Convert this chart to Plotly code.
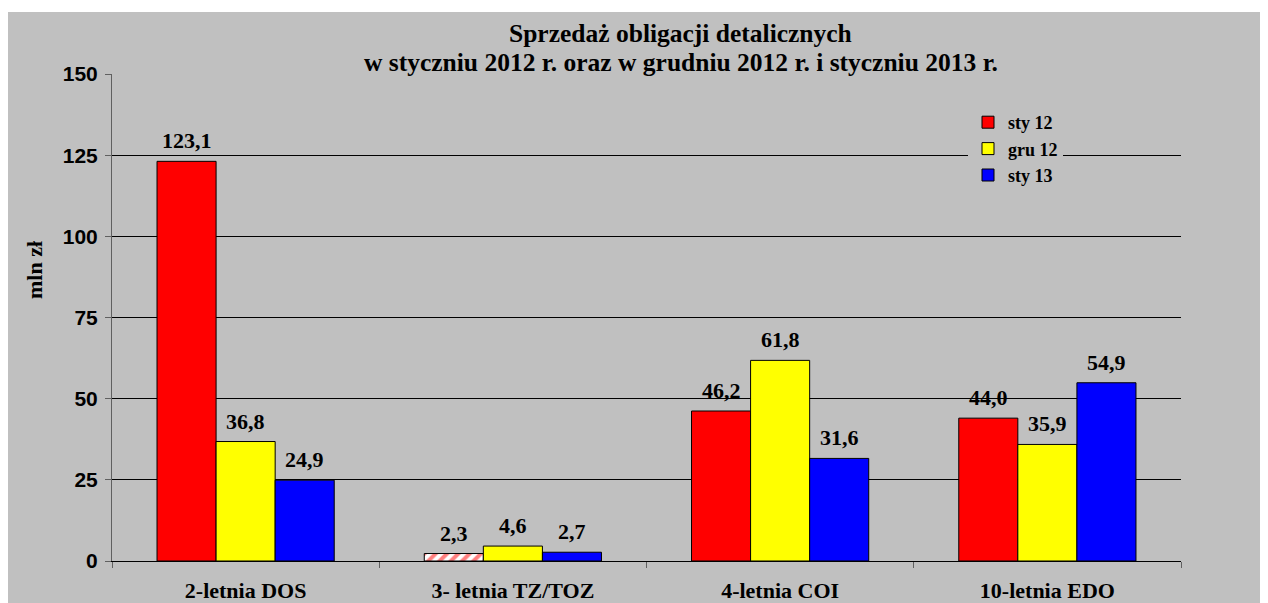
import plotly.graph_objects as go

categories = ["2-letnia DOS", "3- letnia TZ/TOZ", "4-letnia COI", "10-letnia EDO"]
series_names = ["sty 12", "gru 12", "sty 13"]
sty12 = [123.1, 2.3, 46.2, 44.0]
gru12 = [36.8, 4.6, 61.8, 35.9]
sty13 = [24.9, 2.7, 31.6, 54.9]
y_ticks = [0, 25, 50, 75, 100, 125, 150]
title_lines = ["Sprzedaż obligacji detalicznych",
               "w styczniu 2012 r. oraz w grudniu 2012 r. i styczniu 2013 r."]

# figure sits at page offset (8, 8)
W, H = 1260, 595
L, R, T, B = 104, 1173, 66, 553

serif = "Liberation Serif, Times New Roman, serif"
sans = "Liberation Sans, Arial, sans-serif"

fig = go.Figure()
colors = ["#FF0000", "#FFFF00", "#0000FF"]
data = [sty12, gru12, sty13]
shifts = [-59, 0, 59]
for name, vals, col, sh in zip(series_names, data, colors, shifts):
    marker = dict(color=col, line=dict(color="black", width=1))
    if name == "sty 12":
        marker["pattern"] = dict(shape=["", "/", "", ""], fgcolor="#FF0000",
                                 bgcolor="white", size=8, solidity=0.5,
                                 fillmode="overlay")
    fig.add_trace(go.Bar(x=categories, y=vals, name=name, marker=marker))
    for c, v in zip(categories, vals):
        fig.add_annotation(x=c, y=v, xref="x", yref="y", xshift=sh, yshift=6,
                           yanchor="bottom", showarrow=False,
                           text=f"{v:.1f}".replace(".", ","),
                           font=dict(family=serif, size=22, color="black", weight="bold"))

px = lambda x: (x - L) / (R - L)
py = lambda y: (B - y) / (B - T)

fig.add_shape(type="rect", xref="paper", yref="paper",
              x0=px(-5), x1=px(W + 5), y0=py(H + 5), y1=py(4),
              fillcolor="#C0C0C0", line=dict(width=0), layer="below")

fig.add_annotation(text="mln zł", xref="paper", yref="paper",
                   x=px(26), y=py(262), xanchor="center", yanchor="middle",
                   textangle=-90, showarrow=False,
                   font=dict(family=serif, size=22, color="black", weight="bold"))

for txt, yy in zip(title_lines, [26, 54]):
    fig.add_annotation(text=txt, xref="paper", yref="paper", x=px(673), y=py(yy),
                       xanchor="center", yanchor="middle", showarrow=False,
                       font=dict(family=serif, size=25.5, color="black", weight="bold"))

fig.update_layout(
    width=W, height=H,
    margin=dict(l=L, r=W - R, t=T, b=H - B, pad=0, autoexpand=False),
    paper_bgcolor="white", plot_bgcolor="rgba(0,0,0,0)",
    barmode="group", bargap=0.337, bargroupgap=0,
    legend=dict(x=px(960), y=py(96), xanchor="left", yanchor="top",
                bgcolor="#C0C0C0", borderwidth=0, itemwidth=30,
                font=dict(family=serif, size=18, color="black", weight="bold"),
                tracegroupgap=0),
    showlegend=True,
)
fig.update_xaxes(type="category", tickson="boundaries", ticks="outside",
                 ticklen=6, tickcolor="#606060", showline=True, linecolor="black",
                 linewidth=1, showgrid=False, automargin=False,
                 tickfont=dict(family=serif, size=22, color="black", weight="bold"),
                 ticklabelstandoff=10)
fig.update_yaxes(range=[0, 150], tickvals=y_ticks, ticks="outside", ticklen=6,
                 tickcolor="#606060", showline=True, linecolor="#606060",
                 linewidth=1, showgrid=True, gridcolor="black", gridwidth=1,
                 zeroline=False, ticklabelstandoff=3, automargin=False,
                 tickfont=dict(family=sans, size=21, color="black", weight="bold"))

fig.write_html("out.html")
